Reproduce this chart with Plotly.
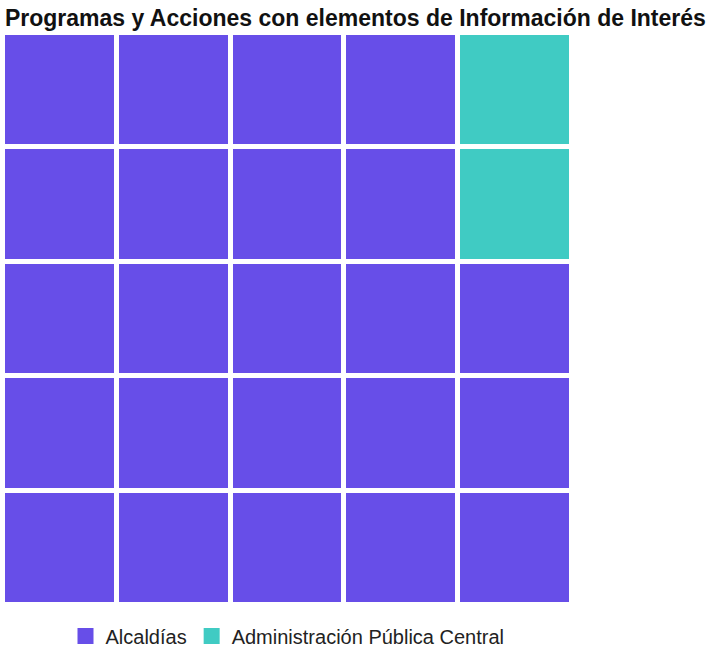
import plotly.graph_objects as go

# Data
categories = ["Alcaldías", "Administración Pública Central"]
counts = [23, 2]
colors = ["#674EE8", "#40CBC3"]
n_rows = 5
n_cols = 5

# Fill column-major, bottom to top
seq = []
for i, c in enumerate(counts):
    seq += [i] * c
z = [[None] * n_cols for _ in range(n_rows)]
labels = [[None] * n_cols for _ in range(n_rows)]
for k, v in enumerate(seq):
    col = k // n_rows
    row = k % n_rows
    z[row][col] = v
    labels[row][col] = categories[v]

fig = go.Figure()
fig.add_trace(go.Heatmap(
    z=z, x=list(range(n_cols)), y=list(range(n_rows)),
    text=labels, hovertemplate="%{text}<extra></extra>",
    colorscale=[[0, colors[0]], [0.5, colors[0]], [0.5, colors[1]], [1, colors[1]]],
    zmin=0, zmax=1, showscale=False, xgap=5, ygap=5,
))
for cat, col in zip(categories, colors):
    fig.add_trace(go.Scatter(
        x=[None], y=[None], mode="markers", name=cat,
        marker=dict(symbol="square", size=16, color=col),
    ))

fig.update_layout(
    width=714, height=655,
    margin=dict(l=3, r=142, t=33, b=50),
    plot_bgcolor="white", paper_bgcolor="white",
    title=dict(text="<b>Programas y Acciones con elementos de Información de Interés</b>",
               x=0.007, xanchor="left", y=0.973, yanchor="middle",
               font=dict(family="Liberation Sans, Arial", size=23, color="#111111")),
    xaxis=dict(visible=False, range=[-0.5, 4.5], fixedrange=True),
    yaxis=dict(visible=False, range=[-0.5, 4.5], fixedrange=True),
    legend=dict(orientation="h", x=0.5, xanchor="center",
                yref="container", y=0.029, yanchor="middle",
                font=dict(family="Liberation Sans, Arial", size=20, color="#222222"),
                itemsizing="trace"),
    showlegend=True,
)

fig.write_html("out.html", config={"displayModeBar": False},
               post_script="document.body.style.margin='0';")
